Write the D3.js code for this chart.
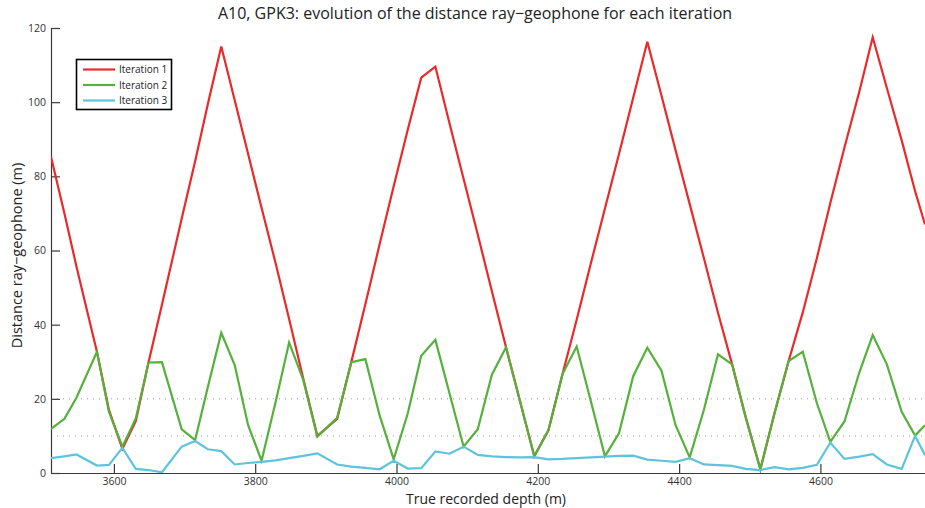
<!DOCTYPE html>
<html>
<head>
<meta charset="utf-8">
<script src="https://cdn.jsdelivr.net/npm/d3@7"></script>
<style>
  html, body { margin: 0; padding: 0; background: #fff; }
  svg { display: block; font-family: "Open Sans", "Noto Sans", sans-serif; }
</style>
</head>
<body>
<svg id="chart" width="925" height="508"></svg>
<script>
// ---- Data ----
const depths = [3511, 3530, 3547, 3576, 3593, 3612, 3631, 3649, 3668, 3696,
  3715, 3733, 3752, 3771, 3790, 3809, 3829, 3848, 3868, 3888,
  3916, 3936, 3956, 3976, 3996, 4016, 4035, 4055, 4075, 4095,
  4115, 4135, 4155, 4175, 4195, 4215, 4235, 4255, 4275, 4295,
  4315, 4335, 4355, 4375, 4395, 4415, 4435, 4455, 4475, 4494,
  4515, 4535, 4555, 4575, 4595, 4614, 4634, 4655, 4674, 4694,
  4715, 4734, 4748];

const iteration1 = [85.3, 70.0, 55.7, 32.7, 17.0, 6.5, 14.0, 29.8, 45.4, 68.6,
  84.1, 99.5, 115.0, 100.5, 86.0, 71.5, 56.5, 41.5, 25.5, 10.0,
  14.6, 29.9, 45.6, 61.6, 77.3, 92.6, 106.6, 109.6, 94.3, 79.3,
  64.3, 49.0, 33.9, 19.2, 4.5, 11.5, 26.7, 41.3, 56.5, 71.3,
  86.1, 101.2, 116.3, 101.8, 87.0, 72.5, 58.0, 43.2, 29.3, 15.2,
  1.0, 16.1, 30.2, 43.3, 58.0, 72.8, 87.8, 102.8, 117.5, 103.8,
  89.7, 76.0, 67.0];

const iteration2 = [11.9, 14.6, 20.3, 32.7, 16.5, 7.1, 14.7, 29.8, 29.9, 11.8,
  8.9, 23.2, 37.8, 29.1, 12.9, 3.3, 19.2, 35.2, 25.1, 9.8,
  14.9, 29.9, 30.7, 15.6, 3.7, 16.1, 31.6, 35.9, 21.5, 7.1,
  11.8, 26.5, 33.9, 19.2, 4.5, 11.5, 26.7, 34.1, 19.4, 4.5,
  10.8, 26.1, 33.8, 27.6, 12.9, 4.2, 17.0, 32.0, 29.3, 15.2,
  1.0, 16.1, 30.2, 32.7, 18.8, 8.4, 13.9, 27.1, 37.2, 29.3,
  16.5, 10.1, 12.9];

const iteration3 = [4.0, 4.5, 5.0, 2.0, 2.2, 6.8, 1.1, 0.8, 0.2, 7.1,
  8.6, 6.4, 5.9, 2.3, 2.7, 3.0, 3.4, 4.0, 4.6, 5.3,
  2.3, 1.7, 1.4, 1.0, 3.3, 1.2, 1.3, 5.8, 5.2, 7.1,
  4.9, 4.5, 4.3, 4.2, 4.3, 3.7, 3.8, 4.0, 4.2, 4.4,
  4.6, 4.7, 3.6, 3.3, 3.0, 4.0, 2.3, 2.1, 1.9, 1.1,
  0.8, 1.6, 1.0, 1.4, 2.2, 8.2, 3.8, 4.4, 5.1, 2.3,
  1.1, 10.0, 4.8];

const seriesNames = ["Iteration 1", "Iteration 2", "Iteration 3"];
const seriesColors = ["#ea2a2a", "#55b03c", "#5cc4dc"];
const xTicks = [3600, 3800, 4000, 4200, 4400, 4600];
const yTicks = [0, 20, 40, 60, 80, 100, 120];
const refLines = [10, 20];

const titleText = "A10, GPK3: evolution of the distance ray\u2212geophone for each iteration";
const xLabel = "True recorded depth (m)";
const yLabel = "Distance ray\u2212geophone (m)";

// ---- Layout ----
const W = 925, H = 508;
const mLeft = 51, mRight = 925, mTop = 28, mBottom = 473;

const svg = d3.select("#chart");

const x = d3.scaleLinear().domain([3511, 4748]).range([mLeft, mRight]);
const y = d3.scaleLinear().domain([0, 120]).range([mBottom, mTop]);

svg.append("defs").append("clipPath").attr("id", "clip")
  .append("rect").attr("x", mLeft).attr("y", mTop - 5).attr("width", mRight - mLeft).attr("height", mBottom - mTop + 5);

// dotted reference lines
svg.append("g").selectAll("line").data(refLines).join("line")
  .attr("x1", mLeft).attr("x2", mRight)
  .attr("y1", d => y(d)).attr("y2", d => y(d))
  .attr("stroke", "#9a9a9a").attr("stroke-width", 1)
  .attr("stroke-dasharray", "1,5");

// axes
const axisColor = "#3a3a3a";
const xAxis = d3.axisBottom(x).tickValues(xTicks).tickSize(-9).tickPadding(5).tickFormat(d3.format("d"));
const yAxis = d3.axisLeft(y).tickValues(yTicks).tickSize(-9).tickPadding(5).tickFormat(d3.format("d"));

const gx = svg.append("g").attr("transform", `translate(0,${mBottom})`).call(xAxis);
const gy = svg.append("g").attr("transform", `translate(${mLeft},0)`).call(yAxis);
[gx, gy].forEach(g => {
  g.select(".domain").attr("stroke", axisColor).attr("stroke-width", 1.2);
  g.selectAll(".tick line").attr("stroke", axisColor).attr("stroke-width", 1.2);
  g.selectAll(".tick text").attr("fill", "#333").attr("font-size", 10.5)
    .attr("font-family", "'Open Sans', sans-serif");
});
gx.select(".domain").attr("d", `M${mLeft},0.5H${mRight}`);
gy.select(".domain").attr("d", `M0.5,${mTop}V${mBottom}`);

// series
const lineGen = d3.line().x((d, i) => x(depths[i])).y(d => y(d));
const seriesData = [iteration1, iteration2, iteration3];
svg.append("g").attr("clip-path", "url(#clip)")
  .selectAll("path").data(seriesData).join("path")
  .attr("d", d => lineGen(d))
  .attr("fill", "none")
  .attr("stroke", (d, i) => seriesColors[i])
  .attr("stroke-width", 2.2)
  .attr("stroke-linejoin", "miter");

// title & labels
svg.append("text").attr("x", 475).attr("y", 19).attr("text-anchor", "middle")
  .attr("font-size", 16).attr("fill", "#222").text(titleText);
svg.append("text").attr("x", 486).attr("y", 504).attr("text-anchor", "middle")
  .attr("font-size", 14).attr("fill", "#222").text(xLabel);
svg.append("text").attr("transform", `translate(22,${(mTop + mBottom) / 2 + 5}) rotate(-90)`)
  .attr("text-anchor", "middle").attr("font-size", 14.5).attr("fill", "#222").text(yLabel);

// legend
const lg = svg.append("g");
lg.append("rect").attr("x", 76.5).attr("y", 59.5).attr("width", 95).attr("height", 50)
  .attr("fill", "#fff").attr("stroke", "#000").attr("stroke-width", 1.6);
const rows = lg.selectAll("g.row").data(seriesNames).join("g")
  .attr("transform", (d, i) => `translate(0,${69.5 + i * 15.5})`);
rows.append("line").attr("x1", 83).attr("x2", 115).attr("y1", 0).attr("y2", 0)
  .attr("stroke", (d, i) => seriesColors[i]).attr("stroke-width", 2.2);
rows.append("text").attr("x", 119).attr("y", 3.8).attr("font-size", 10)
  .attr("fill", "#222").text(d => d);
</script>
</body>
</html>
